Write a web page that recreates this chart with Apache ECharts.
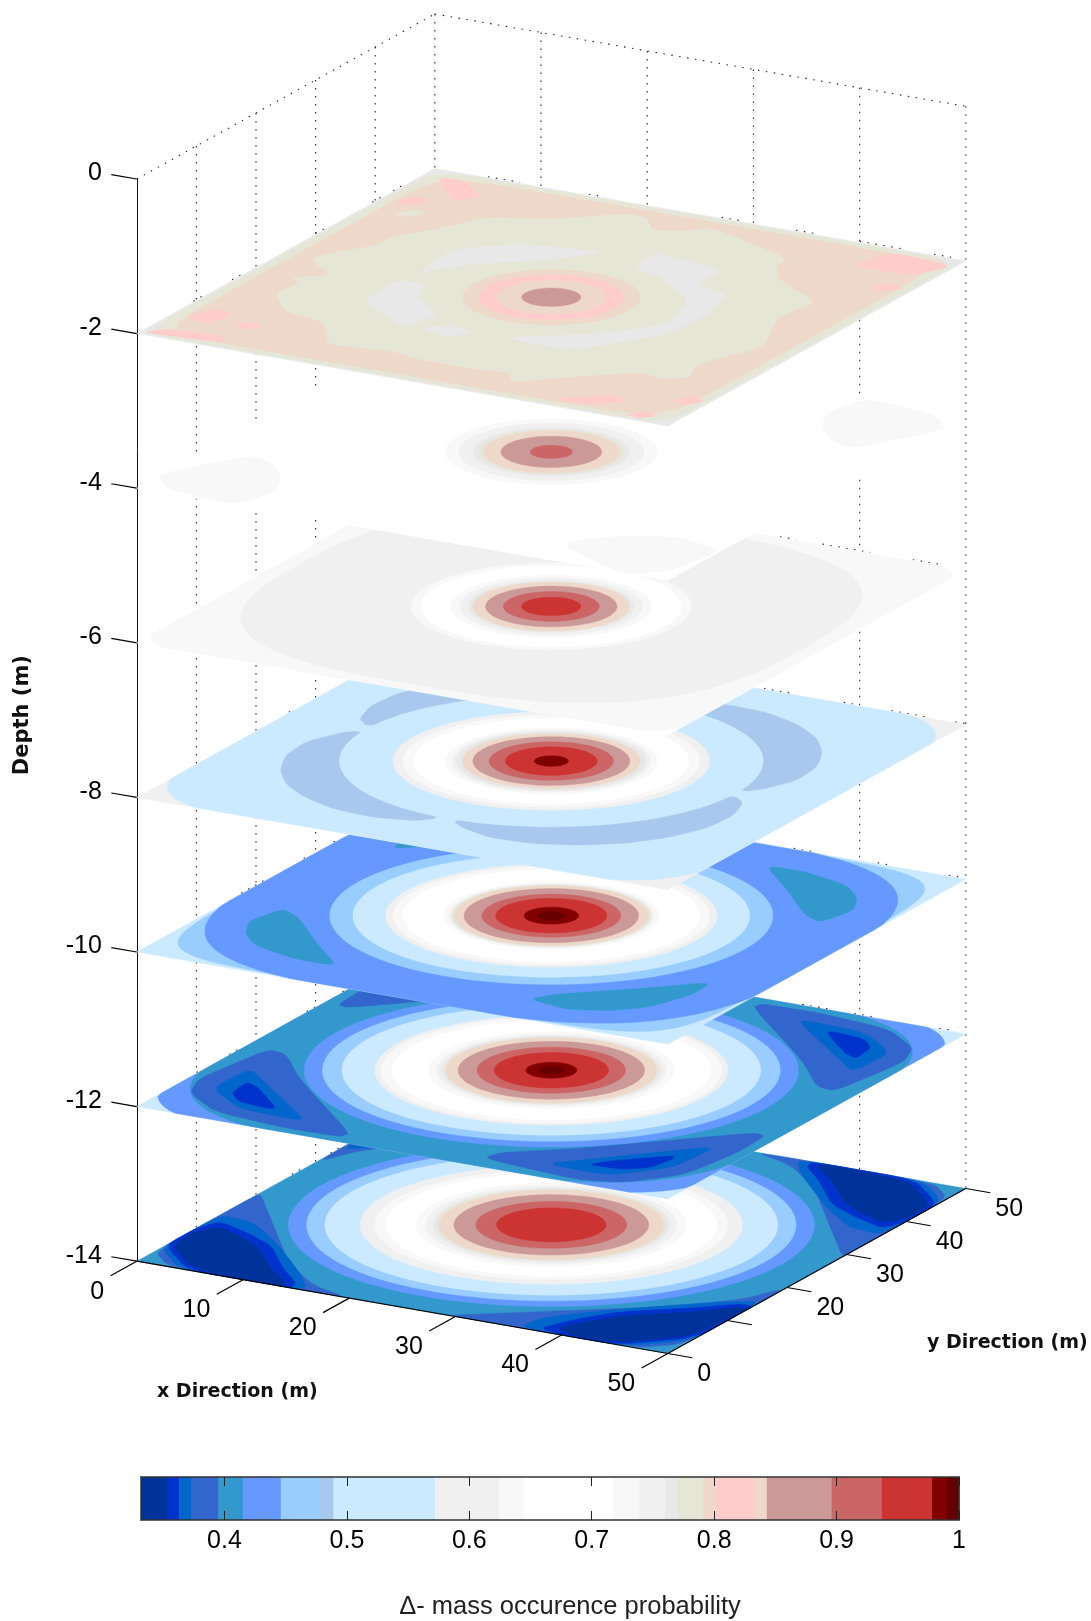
<!DOCTYPE html>
<html>
<head>
<meta charset="utf-8">
<style>html,body{margin:0;padding:0;background:#fff}#chart{width:1091px;height:1621px}</style>
<script src="https://cdn.jsdelivr.net/npm/echarts@6/dist/echarts.min.js"></script>
</head>
<body>
<div id="chart"></div>
<script>
// ---- colour scale ----
const bandEdges = [0.3318,0.353,0.363,0.373,0.395,0.415,0.446,0.478,0.489,0.572,0.624,0.645,0.717,0.739,0.760,0.770,0.791,0.801,0.833,0.843,0.896,0.937,0.978,0.990,1.0];
const bandColors = ['#003399','#0033cc','#0066cc','#3366cc','#3399cc','#6699ff','#99ccff','#a8c8ee','#cceaff','#f0f0f0','#f8f8f8','#ffffff','#f8f8f8','#f0f0f0','#e8e8e8','#e6e6d6','#eed8ca','#ffcccc','#eed8ca','#cc9999','#cc6666','#cc3333','#800000','#660000'];
const colorTicks = [0.4,0.5,0.6,0.7,0.8,0.9,1];

// ---- axes ----
const depthTicks = [-14,-12,-10,-8,-6,-4,-2,0];
const xTicks = [0,10,20,30,40,50];
const yTicks = [0,10,20,30,40,50];
const xTickLabels = ['0','10','20','30','40','50'];
const yTickLabels = ['0','','20','30','40','50'];

// ---- contour bands per depth: [probability, radius m] or [probability, half size m, squareness] ----
const rings14 = [[.43,21.6],[.462,20.1],[.53,18.6],[.60,15.7],[.635,14.5],[.68,13.6],[.728,11.1],[.75,10.3],[.765,9.7],[.78,9.4],[.796,9.2],[.87,8],[.915,6.2],[.958,4.5]];
const rings12 = [[.43,20.3],[.462,18.8],[.53,17.2],[.60,14.5],[.635,14],[.68,13.1],[.728,10.1],[.75,9.4],[.765,9],[.78,8.7],[.796,8.67],[.87,7.66],[.915,6.1],[.958,4.7],[.984,2.1],[.995,1]];
const rings10 = [[.462,18.2],[.53,16.3],[.60,13.6],[.635,13],[.68,12.2],[.728,8.84],[.75,8.4],[.765,8.2],[.78,8.1],[.796,7.96],[.87,7.17],[.915,5.7],[.958,4.57],[.984,2.24],[.995,1.1]];
const rings8 = [[.53,17.4],[.60,13],[.635,12.2],[.68,11.3],[.728,8.7],[.75,8.15],[.765,7.8],[.796,7.3],[.87,6.45],[.915,5.1],[.958,3.77],[.984,1.4]];
const rings6 = [[.635,11.5],[.68,10.7],[.728,8.25],[.75,7.5],[.765,6.8],[.78,6.5],[.796,6.4],[.87,5.4],[.915,3.94],[.958,2.43]];
const rings4 = [[.728,8.7],[.75,7.6],[.765,6.4],[.78,5.9],[.796,5.57],[.87,4.14],[.915,1.74]];
const rings2 = [[.796,7.3],[.82,5.9],[.838,4.5],[.87,2.43]];

const squares12 = [[.43,27,5],[.405,26,3.6]];
const squares10 = [[.462,24.7,7],[.43,25.5,3.2]];
const squares8 = [[.53,26,5.6]];
const squares6 = [[.635,27,6],[.60,23.5,2.8]];
const squares2 = [[.78,24.7,20],[.796,23.8,12]];

// ---- corner minima, measured at the x=0,y=0 corner (metres), repeated on the other three corners ----
const lobes14 = [
  [.384,[[20,0],[15.6,1.6],[10.9,6],[4.6,14.5],[.3,20.3],[0,20],[0,3],[3,0]]],
  [.368,[[16,0],[13.5,3.5],[7.5,10],[3.2,13.7],[0,14],[0,4],[4,0]]],
  [.358,[[14.5,0],[14.2,1.4],[11.6,4],[7.6,9],[4.2,11],[.8,12.5],[0,10],[0,4.8],[4.8,0]]],
  [.34,[[13.5,0],[13.5,1],[10.8,3.4],[6.8,8.2],[4,10],[1.5,11.2],[.3,9],[.6,5],[5,.6]]]
];
const lobes12 = [
  [.384,[[2,18.5],[4,18],[8,13],[18.7,2.4],[18.5,1.2],[13.4,1],[6.2,2],[2,5.3],[.8,9]]],
  [.368,[[3,7.3],[3.2,13.3],[6.5,10.3],[13.4,4],[13.2,3.3],[7.5,3.7]]],
  [.358,[[5,7],[4.7,10.1],[6.3,9.2],[10.2,5.2],[9.6,4.8],[6.6,5.3]]]
];
const lobes10 = [
  [.405,[[4.9,15.8],[7.1,14.5],[11.6,9.4],[15.5,5.5],[15.5,4.8],[12.4,4.7],[7.7,6.2],[5.4,8.6],[4,11.7]]]
];
const lobes8 = [
  [.484,[[7.4,24.4],[6.2,23],[4.9,19.6],[5.2,15.7],[6.7,12.1],[9,9],[12.1,6.7],[15.7,5.2],[19.6,4.9],[23,5.8],[24.4,7.4],[16,16]]]
];
const lobes4 = [
  [.635,[[8.9,8.4],[10.4,4.7],[9.1,0],[2.6,1],[0,3.4],[.5,5.8],[4.1,12.3],[6.6,11]]]
];

// ---- irregular patches of the shallowest slice (x m, y m) ----
const patches2 = [
  [.82,[[49.7,48.4],[43.6,49],[42.5,44.4],[48,44.4]]],
  [.82,[[.2,.5],[1.8,2.4],[6.9,2.8],[7.3,1.4]]],
  [.82,[[1.2,6],[2.5,9],[4.5,8],[3.5,5]]],
  [.82,[[5.8,6],[7,7.5],[8,6.5],[7,5.2]]],
  [.82,[[1.5,48],[3.5,48.5],[7,45.5],[5.5,43.5],[3,46]]],
  [.82,[[1.2,41],[2.8,43],[3.8,42],[2.5,40.5]]],
  [.82,[[38,1.5],[42.1,4.8],[44,4.2],[42,2]]],
  [.82,[[47,6],[48,8],[49.5,7],[48.5,5.5]]],
  [.82,[[46.5,40],[47.8,42],[49,41],[48,39.8]]],
  [.82,[[45.5,1],[46.7,2.4],[48,1.8],[46.8,.6]]],
  [.78,[[14.8,43],[19.6,47.2],[21.5,47.3],[23.5,44.5],[26,45.5],[27.3,47.5],[36.7,43.6],[37.2,40.9],[39.2,38],[44.7,34.5],[43.8,29.9],[44.9,26.6],[46.6,22],[44,15.4],[45.3,12.1],[43.5,10.6],[41.1,11.3],[36.3,7.1],[33.2,3.8],[31.6,6],[28.7,5.4],[23.4,5.4],[20.4,6.2],[15,5.2],[13.2,8.4],[11.4,10.3],[7.6,11.2],[4.8,14.7],[5,18.4],[3.8,19.2],[6.4,21.2],[2.8,24.1],[3.6,26.7],[5.8,29.9],[5.7,32.3],[8.3,36.8],[10,40.8]]],
  [.78,[[3,38],[4,40],[5.2,39],[4,37.6]]],
  [.765,[[12.4,25],[11.7,32.1],[16,36.1],[23.1,37.6],[20.4,34],[15.1,29.6],[12.9,26.4]]],
  [.765,[[27,35.2],[26.8,39.7],[28.9,38.8],[30.9,38.9],[33.9,37.6],[33.7,33.8],[37.2,32.9],[38.5,26.5],[38.1,21.2],[33.3,13.5],[26.6,13.8],[33.1,18.4],[36.9,23.5],[35.3,29.7],[30.3,34]]],
  [.765,[[12.1,16.7],[11.7,22.7],[14.2,23],[15.4,19.6],[19.1,16.6],[18.3,12.2],[14.2,14.9]]],
  [.765,[[19.8,12.5],[21.4,14.8],[23.9,13.8],[22.6,11.5]]]
];

const depths = [-14,-12,-10,-8,-6,-4,-2];
const plateValues = [.405,.53,.53,.60,.68,.68,.765];
const allSquares = [[],squares12,squares10,squares8,squares6,[],squares2];
const allLobes = [lobes14,lobes12,lobes10,lobes8,[],lobes4,[]];
const allPatches = [[],[],[],[],[],[],patches2];
const allRings = [rings14,rings12,rings10,rings8,rings6,rings4,rings2];

// ---- pieces of the back-wall grid lines that show above each slice: [depth, from, to] ----
const wallAlongX = [[-2,5,8],[-2,14.5,16],[-2,27,29],[-2,34,36],[-2,40,44],[-2,47,49],[-6,32.5,34],[-6,36.5,41],[-6,45,47.5],[-8,31,33.5],[-8,38.5,40],[-8,43,46.5],[-8,49,50],[-10,33.8,35.5],[-10,41.7,42.8],[-10,48.4,49.6],[-12,34.6,37],[-12,39.5,41.5],[-12,47.5,49]];
const wallAlongY = [[-2,43,45],[-2,39.5,41],[-2,30,32],[-2,16,18],[-2,9.5,11.5],[-8,25.5,26.5],[-10,17.5,21.7],[-10,28,29],[-10,33,34],[-12,10,11],[-12,15.5,17],[-12,28.5,30],[-12,34.5,36],[-14,26,27.5],[-14,32.5,34.5]];

// ---- oblique view: x,y,depth -> the two plot axes ----
const yShear = 0.5612, xDrop = 0.02388, yRise = 0.04269, edgeLift = 0.014;
const project = (x,y,d) => [x + yShear*y, d - xDrop*x + yRise*y];

const colorOf = v => {
  for (let i=0;i<bandColors.length;i++) if (v < bandEdges[i+1]) return bandColors[i];
  return bandColors[bandColors.length-1];
};
const clamp = c => Math.max(0, Math.min(50, c));
function outline(r, p) {
  const e = 2/(p||2), pts = [];
  for (let t=0;t<360;t+=4) {
    const c=Math.cos(t*Math.PI/180), s=Math.sin(t*Math.PI/180);
    pts.push([clamp(25+r*Math.sign(c)*Math.pow(Math.abs(c),e)), clamp(25+r*Math.sign(s)*Math.pow(Math.abs(s),e))]);
  }
  return pts;
}
function soften(pts, n) {
  let out = pts;
  for (let k=0;k<n;k++) {
    const q=[];
    out.forEach((a,i)=>{const b=out[(i+1)%out.length];
      q.push([.85*a[0]+.15*b[0],.85*a[1]+.15*b[1]],[.15*a[0]+.85*b[0],.15*a[1]+.85*b[1]]);});
    out=q;
  }
  return out;
}
const shapes = [];
depths.forEach((d,i)=>{
  shapes.push({d,v:plateValues[i],pts:[[0,0],[50,0],[50,50],[0,50]]});
  allSquares[i].forEach(b=>shapes.push({d,v:b[0],pts:outline(b[1],b[2])}));
  allLobes[i].forEach(l=>{
    const soft=soften(l[1],2);
    shapes.push({d,v:l[0],pts:soft});
    shapes.push({d,v:l[0],pts:soft.map(([p,q])=>[50-q,p])});
    shapes.push({d,v:l[0],pts:soft.map(([p,q])=>[50-p,50-q])});
    shapes.push({d,v:l[0],pts:soft.map(([p,q])=>[q,50-p])});
  });
  allPatches[i].forEach(l=>shapes.push({d,v:l[0],pts:soften(l[1],1)}));
  allRings[i].forEach(b=>shapes.push({d,v:b[0],pts:outline(b[1])}));
});

// dotted box lines [[x,y,d],[x,y,d]]
const boxLines = [[[0,0,0],[0,50,0]],[[0,50,0],[50,50,0]]];
yTicks.slice(1).forEach(y=>boxLines.push([[0,y,0],[0,y,-14]]));
xTicks.slice(1).forEach(x=>boxLines.push([[x,50,0],[x,50,-14]]));
wallAlongX.forEach(w=>boxLines.push([[w[1],50,w[0]+edgeLift],[w[2],50,w[0]+edgeLift]]));
wallAlongY.forEach(w=>boxLines.push([[0,w[1],w[0]+edgeLift],[0,w[2],w[0]+edgeLift]]));

// solid axis lines and slanted ticks
const axisLines = [[[0,0,-14],[50,0,-14]],[[50,0,-14],[50,50,-14]]];
depthTicks.forEach(d=>axisLines.push([[0,0,d],[-2.4,0,d]]));
xTicks.forEach(x=>axisLines.push([[x,0,-14],[x,-4.4,-14]]));
yTicks.forEach(y=>axisLines.push([[50,y,-14],[52.3,y,-14]]));

const lineRender = (list,style) => (params,api)=>{
  const l=list[api.value(0)];
  const a=api.coord(project(...l[0])), b=api.coord(project(...l[1]));
  return {type:'line',shape:{x1:a[0],y1:a[1],x2:b[0],y2:b[1]},style};
};

const tickText = [];
xTicks.forEach((x,i)=>tickText.push({text:xTickLabels[i],at:[x,-5.47,-14.16],align:'right'}));
yTicks.forEach((y,i)=>tickText.push({text:yTickLabels[i],at:[52.77,y,-14.2],align:'left'}));

const chart = echarts.init(document.getElementById('chart'),null,{renderer:'canvas'});
const labelFont = {fontFamily:'"Liberation Sans",Arial,sans-serif',fontSize:25,color:'#000'};
const titleFont = {fontFamily:'"DejaVu Sans",sans-serif',fontWeight:'bold',fontSize:21,color:'#111'};

chart.setOption({
  animation:false,
  backgroundColor:'#fff',
  grid:[
    {left:136.8,width:829.8,top:179,height:1082.2},
    {left:141,width:818,top:1477,height:44}
  ],
  xAxis:[
    {gridIndex:0,type:'value',min:0,max:78.13,show:false},
    {gridIndex:1,type:'value',min:bandEdges[0],max:1,position:'bottom',z:5,
      axisLine:{show:true,onZero:false,lineStyle:{color:'#333',width:1.5}},
      axisTick:{show:true,inside:true,length:9,customValues:colorTicks,lineStyle:{color:'#222',width:1}},
      splitLine:{show:false},
      axisLabel:{customValues:colorTicks,margin:9,...labelFont,formatter:v=>v===1?'1':v.toFixed(1)},
      name:'\u0394- mass occurence probability',nameLocation:'middle',nameGap:74,
      nameTextStyle:{fontFamily:'"Liberation Sans",Arial,sans-serif',fontSize:25.5,color:'#222',padding:[0,0,0,40]}},
    {gridIndex:1,type:'value',min:bandEdges[0],max:1,position:'top',z:5,
      axisLine:{show:true,onZero:false,lineStyle:{color:'#333',width:1.5}},
      axisTick:{show:true,inside:true,length:9,customValues:colorTicks,lineStyle:{color:'#222',width:1}},
      splitLine:{show:false},axisLabel:{show:false}}
  ],
  yAxis:[
    {gridIndex:0,type:'value',min:-14,max:0,interval:2,
      axisLine:{show:true,onZero:false,lineStyle:{color:'#111',width:1}},
      axisTick:{show:false},splitLine:{show:false},
      axisLabel:{margin:35,verticalAlign:'bottom',lineHeight:11,...labelFont},
      name:'Depth (m)',nameLocation:'middle',nameGap:104,nameTextStyle:{...titleFont,padding:[0,0,0,10]}},
    {gridIndex:1,type:'value',min:0,max:1,position:'left',z:5,
      axisLine:{show:true,onZero:false,lineStyle:{color:'#333',width:1.5}},axisTick:{show:false},axisLabel:{show:false},splitLine:{show:false}},
    {gridIndex:1,type:'value',min:0,max:1,position:'right',z:5,
      axisLine:{show:true,onZero:false,lineStyle:{color:'#333',width:1.5}},axisTick:{show:false},axisLabel:{show:false},splitLine:{show:false}}
  ],
  graphic:[
    {type:'text',left:157,top:1383,style:{text:'x Direction (m)',font:'bold 19px "DejaVu Sans",sans-serif',fill:'#111'}},
    {type:'text',left:927,top:1334,style:{text:'y Direction (m)',font:'bold 19px "DejaVu Sans",sans-serif',fill:'#111'}}
  ],
  series:[
    {type:'custom',name:'box',z:1,xAxisIndex:0,yAxisIndex:0,silent:true,
      data:boxLines.map((_,i)=>[i]),
      renderItem:lineRender(boxLines,{stroke:'#222',lineWidth:1.1,lineDash:[1.5,6.5]})},
    {type:'custom',name:'slices',z:2,xAxisIndex:0,yAxisIndex:0,silent:true,
      data:shapes.map((_,i)=>[i]),
      renderItem:(params,api)=>{
        const s=shapes[api.value(0)];
        const c=colorOf(s.v);
        return {type:'polygon',shape:{points:s.pts.map(p=>api.coord(project(p[0],p[1],s.d)))},style:{fill:c,stroke:c,lineWidth:.4}};
      }},
    {type:'custom',name:'axes',z:3,xAxisIndex:0,yAxisIndex:0,silent:true,
      data:axisLines.map((_,i)=>[i]),
      renderItem:lineRender(axisLines,{stroke:'#000',lineWidth:1.2})},
    {type:'custom',name:'ticklabels',z:4,xAxisIndex:0,yAxisIndex:0,silent:true,
      data:tickText.map((_,i)=>[i]),
      renderItem:(params,api)=>{
        const t=tickText[api.value(0)];
        const c=api.coord(project(...t.at));
        return {type:'text',x:c[0],y:c[1],style:{text:t.text,font:'25px "Liberation Sans",Arial,sans-serif',fill:'#000',align:t.align,verticalAlign:'middle'}};
      }},
    {type:'custom',name:'colorbar',z:2,xAxisIndex:1,yAxisIndex:1,silent:true,
      data:bandColors.map((_,i)=>[i]),
      renderItem:(params,api)=>{
        const i=api.value(0);
        const a=api.coord([bandEdges[i],1]), b=api.coord([bandEdges[i+1],0]);
        return {type:'rect',shape:{x:a[0],y:a[1],width:b[0]-a[0]+.5,height:b[1]-a[1]},style:{fill:bandColors[i]}};
      }}
  ]
});
</script>
</body>
</html>
